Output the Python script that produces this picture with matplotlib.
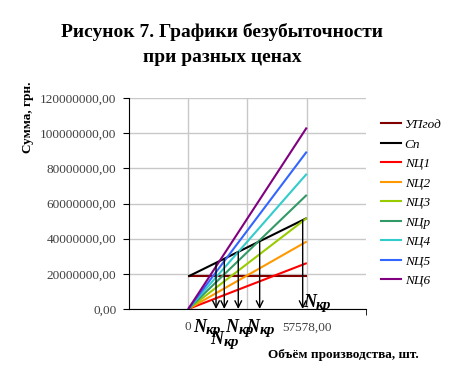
import numpy as np
import matplotlib
matplotlib.use("Agg")
import matplotlib.pyplot as plt
from matplotlib.lines import Line2D

plt.rcParams['font.family'] = ['Liberation Serif', 'DejaVu Serif']

# volume of production, pcs
volume = [0, 57578]
# series values (UAH) at the two volumes
up_god = [18.5e6, 18.5e6]
s_p = [18.5e6, 51.7e6]
nc1 = [0, 26.1e6]
nc2 = [0, 38.4e6]
nc3 = [0, 51.7e6]
nc_r = [0, 64.9e6]
nc4 = [0, 76.9e6]
nc5 = [0, 89.5e6]
nc6 = [0, 103.2e6]
names = ['УПгод', 'Сп', 'NЦ1', 'NЦ2', 'NЦ3', 'NЦр', 'NЦ4', 'NЦ5', 'NЦ6']
# break-even volumes marked by arrows
n_kr = [13500, 17500, 24300, 34700, 55600]

series = [up_god, s_p, nc1, nc2, nc3, nc_r, nc4, nc5, nc6]
colors = ['#800000', '#000000', '#FF0000', '#FF9900', '#99CC00',
          '#339966', '#33CCCC', '#3366FF', '#800080']

fig = plt.figure(figsize=(4.56, 3.81), dpi=100)
ax = fig.add_axes([129/456, 1 - 309/381, (366 - 129)/456, (309 - 98)/381])

for vals, c, nm in zip(series, colors, names):
    ax.plot(volume, vals, color=c, lw=1.5, label=nm, solid_capstyle='butt')

step = volume[1] / 2
ax.set_xlim(-step, volume[1] + step)
ax.set_ylim(0, 120e6)
ax.set_yticks(np.arange(0, 120e6 + 1, 20e6))
ax.set_yticklabels(['%d,00' % v for v in np.arange(0, 120e6 + 1, 20e6)])
ax.set_xticks([0, step, volume[1]])
ax.set_xticklabels(['0', '', '57578,00'])
ax.set_xticks([step, volume[1] + step], minor=True)
ax.tick_params(axis='x', which='major', length=0, pad=9, labelsize=9.5, labelcolor='#404040')
ax.tick_params(axis='x', which='minor', length=4, direction='out')
ax.tick_params(axis='y', length=4, direction='out', pad=5, labelsize=9.5, labelcolor='#404040')
ax.grid(True, which='major', color='#C8C8C8', lw=1)
ax.set_axisbelow(True)
for s in ['top', 'right']:
    ax.spines[s].set_visible(False)

# break-even arrows
fixed = s_p[0]
slope = (s_p[1] - s_p[0]) / volume[1]
offs = [(-23, -10), (-14, -22), (-13, -10), (-13, -10), (0, 15)]
for n, (dx, dy) in zip(n_kr, offs):
    top = fixed + slope * n
    ax.annotate('', xy=(n, 0), xytext=(n, top),
                arrowprops=dict(arrowstyle='->', color='black', lw=1,
                                mutation_scale=12, shrinkA=0, shrinkB=0))
    ax.annotate('N', xy=(n, 0), xytext=(dx, dy), textcoords='offset pixels',
                fontsize=13, fontweight='bold', fontstyle='italic',
                ha='left', va='top', annotation_clip=False)
    ax.annotate('кр', xy=(n, 0), xytext=(dx + 13, dy - 5), textcoords='offset pixels',
                fontsize=11, fontweight='bold', fontstyle='italic',
                ha='left', va='top', annotation_clip=False)

fig.text(222/456, 1 - 32/381, 'Рисунок 7. Графики безубыточности', ha='center', va='center',
         fontsize=14, fontweight='bold')
fig.text(222/456, 1 - 57/381, 'при разных ценах', ha='center', va='center',
         fontsize=14, fontweight='bold')
fig.text(28/456, 1 - 117/381, 'Сумма, грн.', rotation=90, ha='center', va='center',
         fontsize=9.5, fontweight='bold')
fig.text(343/456, 1 - 355/381, 'Объём производства, шт.', ha='center', va='center',
         fontsize=9.5, fontweight='bold')

handles = [Line2D([], [], color=c, lw=1.5) for c in colors]
fig.legend(handles, names, loc='upper left', bbox_to_anchor=(369/456, 1 - 107/381),
           frameon=False, handlelength=1.5, handletextpad=0.3, labelspacing=0.55,
           prop=dict(family='Liberation Serif', style='italic', size=9.5))

fig.savefig('out.png', dpi=100)
